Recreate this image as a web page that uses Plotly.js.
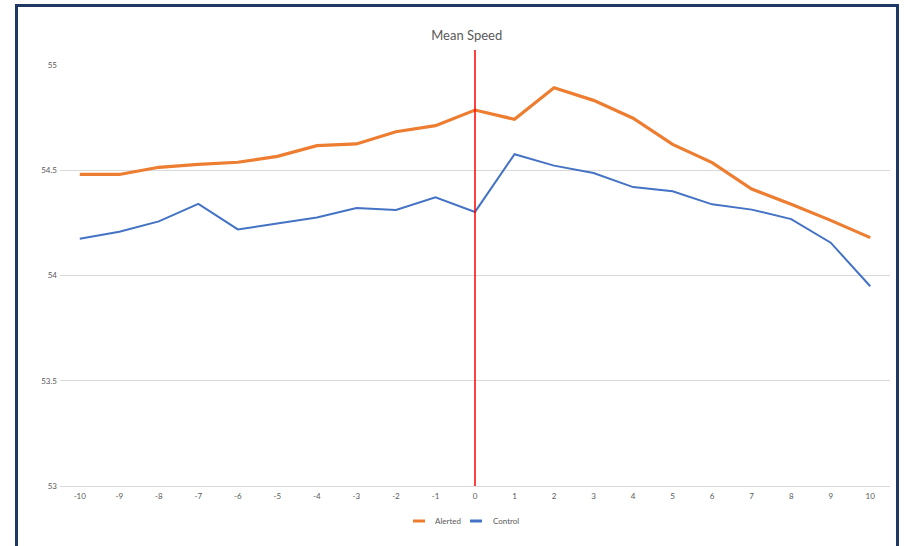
<!DOCTYPE html>
<html>
<head>
<meta charset="utf-8">
<script src="https://cdn.plot.ly/plotly-3.0.1.min.js"></script>
<style>
  html, body { margin: 0; padding: 0; background: #ffffff; }
  #wrap { position: relative; width: 904px; height: 546px; overflow: hidden; }
  #chart { position: absolute; left: 0; top: 0; width: 904px; height: 546px; }
  #frame {
    position: absolute; left: 15px; top: 4px; width: 878px; height: 540px;
    border: 3px solid #1f3864; border-bottom-width: 2px; pointer-events: none;
  }
</style>
</head>
<body>
<div id="wrap">
  <div id="chart"></div>
  <div id="frame"></div>
</div>
<script>
// Time offset relative to the alert (0 = alert moment)
const offsets = [-10, -9, -8, -7, -6, -5, -4, -3, -2, -1, 0, 1, 2, 3, 4, 5, 6, 7, 8, 9, 10];
const offsetLabels = offsets.map(String);

// Mean speed per offset for each group
const alerted = [54.48, 54.48, 54.514, 54.528, 54.538, 54.566, 54.617, 54.625, 54.683, 54.712,
                 54.786, 54.742, 54.892, 54.832, 54.747, 54.623, 54.536, 54.411, 54.338, 54.262, 54.180];
const control = [54.175, 54.208, 54.257, 54.340, 54.219, 54.248, 54.276, 54.321, 54.311, 54.371,
                 54.302, 54.576, 54.522, 54.487, 54.420, 54.400, 54.338, 54.313, 54.268, 54.156, 53.949];

const seriesNames = ["Alerted", "Control"];
const seriesColors = ["#ed7d31", "#4472c4"];
const seriesWidths = [3.2, 2];

const yTicks = [53, 53.5, 54, 54.5, 55];
const alertOffset = 0;

const font = "Lato, 'Open Sans', sans-serif";
const grey = "#595959";

// Plot-area geometry in pixels (used to place the compact legend)
const W = 904, H = 546;
const M = { l: 60, r: 14, t: 65, b: 60 };
const plotW = W - M.l - M.r, plotH = H - M.t - M.b;
const px = x => (x - M.l) / plotW;
const py = y => (H - M.b - y) / plotH;

const traces = [alerted, control].map((vals, i) => ({
  x: offsets, y: vals, name: seriesNames[i], type: "scatter", mode: "lines",
  line: { color: seriesColors[i], width: seriesWidths[i] }, showlegend: false
}));

// Compact legend: short colour swatch followed by the series name
const legendSwatches = [[413, 425], [470, 482]];
const legendTextX = [433, 491];
const legendY = 521;

const shapes = [
  {
    type: "line", xref: "x", yref: "paper",
    x0: alertOffset, x1: alertOffset, y0: 0, y1: py(50),
    line: { color: "#ff0000", width: 1.5 }
  }
];
const annotations = [];
seriesNames.forEach((name, i) => {
  shapes.push({
    type: "line", xref: "paper", yref: "paper",
    x0: px(legendSwatches[i][0]), x1: px(legendSwatches[i][1]),
    y0: py(legendY), y1: py(legendY),
    line: { color: seriesColors[i], width: 3 }
  });
  annotations.push({
    text: name, xref: "paper", yref: "paper",
    x: px(legendTextX[i]), y: py(legendY), xanchor: "left", yanchor: "middle",
    showarrow: false, font: { family: font, size: 8, color: grey }
  });
});

const layout = {
  width: W, height: H,
  margin: M,
  paper_bgcolor: "rgba(0,0,0,0)",
  plot_bgcolor: "#ffffff",
  font: { family: font, size: 8, color: grey },
  title: {
    text: "Mean Speed",
    font: { family: font, size: 13, color: grey },
    xref: "paper", x: 0.49, xanchor: "center",
    yref: "container", y: 1 - 35 / H, yanchor: "middle"
  },
  xaxis: {
    range: [-10.5, 10.5],
    tickvals: offsets, ticktext: offsetLabels,
    showgrid: false, zeroline: false,
    showline: true, linecolor: "#d9d9d9", linewidth: 1,
    ticks: "", ticklabelstandoff: 2,
    tickfont: { family: font, size: 8, color: grey },
    fixedrange: true
  },
  yaxis: {
    range: [53, 55],
    tickvals: yTicks, ticktext: yTicks.map(String),
    showgrid: true, gridcolor: "#d9d9d9", gridwidth: 1,
    zeroline: false, showline: false,
    ticks: "", ticklabelstandoff: 2,
    tickfont: { family: font, size: 8, color: grey },
    fixedrange: true
  },
  shapes: shapes,
  annotations: annotations,
  showlegend: false
};

Plotly.newPlot("chart", traces, layout, { displayModeBar: false, staticPlot: true });
</script>
</body>
</html>
